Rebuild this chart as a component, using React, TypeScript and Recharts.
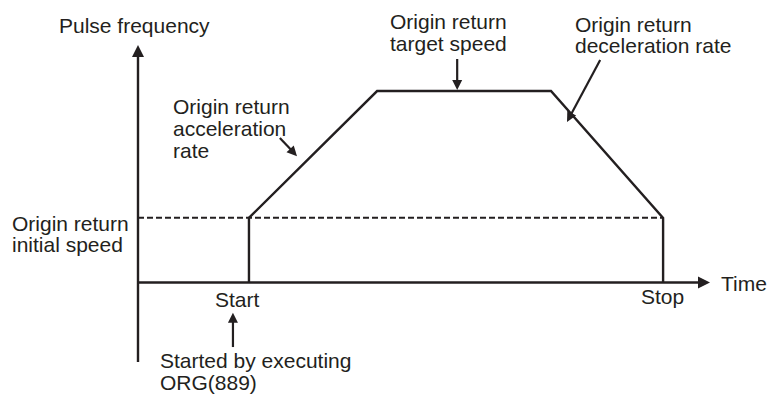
import React from "react";
import { ComposedChart, Line, XAxis, YAxis, ReferenceLine } from "recharts";

// Speed profile (time in % of axis length, pulse frequency in % of axis height)
const profileTime = [19.4, 19.4, 41.8, 72.2, 91.8, 91.8];
const profileFreq = [0, 27.2, 80.6, 80.6, 27.2, 0];
const initialSpeed = 27.2;
const stopTime = 91.8;

// Annotation arrows: [tailT, tailF, tipT, tipF]
const arrowAccel = [24.8, 60.8, 27.8, 53.2];
const arrowTarget = [55.8, 94.1, 55.8, 81.0];
const arrowDecel = [80.8, 93.7, 75.0, 67.6];
const arrowStart = [16.6, -27.2, 16.6, -12.8];

const data = profileTime.map((t, i) => ({ t, f: profileFreq[i] }));

const INK = "#231f20";
const FONT = "'Liberation Sans', Arial, Helvetica, sans-serif";

const arrowShape = (len: number, half: number, sw: number) => (p: any) => {
  const { x1, y1, x2, y2 } = p;
  const dx = x2 - x1;
  const dy = y2 - y1;
  const L = Math.sqrt(dx * dx + dy * dy) || 1;
  const ux = dx / L;
  const uy = dy / L;
  const bx = x2 - ux * len;
  const by = y2 - uy * len;
  const px = -uy * half;
  const py = ux * half;
  return (
    <g>
      <line x1={x1} y1={y1} x2={bx + ux * 1} y2={by + uy * 1} stroke={INK} strokeWidth={sw} />
      <polygon
        points={`${x2},${y2} ${bx + px},${by + py} ${bx - px},${by - py}`}
        fill={INK}
      />
    </g>
  );
};

const seg = (a: number[]) => [
  { x: a[0], y: a[1] },
  { x: a[2], y: a[3] },
];

const labels: { x: number; y: number; text: string }[] = [
  { x: 59, y: 33, text: "Pulse frequency" },
  { x: 173, y: 114.3, text: "Origin return" },
  { x: 173, y: 136, text: "acceleration" },
  { x: 173, y: 157.7, text: "rate" },
  { x: 390, y: 29.3, text: "Origin return" },
  { x: 390, y: 50.5, text: "target speed" },
  { x: 575, y: 31.7, text: "Origin return" },
  { x: 575, y: 53.3, text: "deceleration rate" },
  { x: 12, y: 230.7, text: "Origin return" },
  { x: 12, y: 252.3, text: "initial speed" },
  { x: 215, y: 306.7, text: "Start" },
  { x: 160, y: 368, text: "Started by executing" },
  { x: 160, y: 389.5, text: "ORG(889)" },
  { x: 641, y: 304, text: "Stop" },
  { x: 721, y: 290.7, text: "Time" },
];

export default function App() {
  return (
    <div style={{ position: "absolute", left: 0, top: 0, width: 769, height: 394, background: "#fff" }}>
      <ComposedChart
        width={769}
        height={394}
        data={data}
        margin={{ top: 45, right: 59, bottom: 32, left: 138 }}
      >
        <XAxis type="number" dataKey="t" domain={[0, 100]} hide />
        <YAxis type="number" dataKey="f" domain={[-33.5, 100]} hide />
        {/* Axes with arrowheads */}
        <ReferenceLine
          segment={[{ x: 0, y: -33.5 }, { x: 0, y: 100 }]}
          shape={arrowShape(12, 6, 2.4)}
        />
        <ReferenceLine
          segment={[{ x: 0, y: 0 }, { x: 100, y: 0 }]}
          shape={arrowShape(12, 6, 2.4)}
        />
        {/* Initial speed dashed line */}
        <ReferenceLine
          segment={[{ x: 0, y: initialSpeed }, { x: stopTime, y: initialSpeed }]}
          stroke={INK}
          strokeWidth={2}
          strokeDasharray="6 3"
        />
        <Line
          type="linear"
          dataKey="f"
          stroke={INK}
          strokeWidth={2.4}
          dot={false}
          activeDot={false}
          isAnimationActive={false}
          strokeLinejoin="miter"
        />
        <ReferenceLine segment={seg(arrowAccel)} shape={arrowShape(10, 5, 2.2)} />
        <ReferenceLine segment={seg(arrowTarget)} shape={arrowShape(10, 5, 2.2)} />
        <ReferenceLine segment={seg(arrowDecel)} shape={arrowShape(10, 5, 2.2)} />
        <ReferenceLine segment={seg(arrowStart)} shape={arrowShape(10, 5, 2.2)} />
        <g>
          {labels.map((l, i) => (
            <text key={i} x={l.x} y={l.y} fontFamily={FONT} fontSize={21} fill={INK}>
              {l.text}
            </text>
          ))}
        </g>
      </ComposedChart>
    </div>
  );
}
